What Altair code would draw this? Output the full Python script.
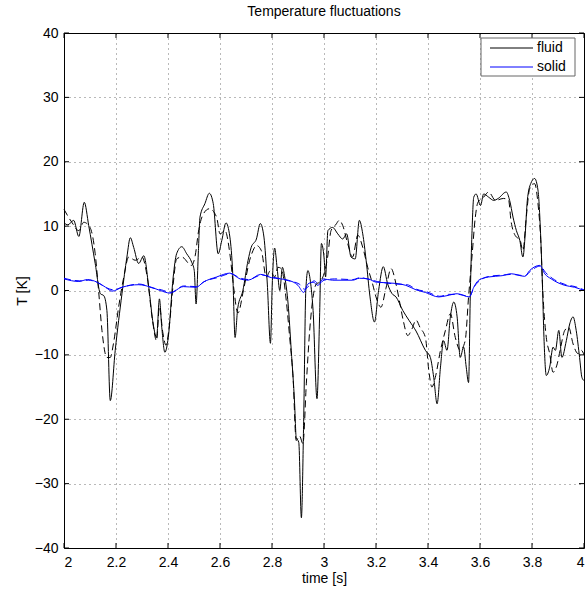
import altair as alt
import pandas as pd

# ---------------- data ----------------
fluid_t = [2.000, 2.015, 2.037, 2.057, 2.078, 2.095, 2.120, 2.140, 2.153, 2.165, 2.178, 2.197,
           2.223, 2.242, 2.255, 2.268, 2.287, 2.307, 2.326, 2.343, 2.356, 2.367, 2.376, 2.388,
           2.401, 2.420, 2.433, 2.453, 2.472, 2.491, 2.501, 2.508, 2.517, 2.523, 2.542, 2.559,
           2.574, 2.593, 2.607, 2.623, 2.638, 2.649, 2.658, 2.668, 2.688, 2.708, 2.720, 2.740,
           2.755, 2.769, 2.782, 2.794, 2.801, 2.810, 2.820, 2.830, 2.840, 2.849, 2.862, 2.874,
           2.887, 2.893, 2.903, 2.913, 2.922, 2.930, 2.938, 2.949, 2.958, 2.973, 2.983, 2.990,
           3.000, 3.006, 3.015, 3.033, 3.053, 3.072, 3.087, 3.104, 3.120, 3.136, 3.149, 3.162,
           3.177, 3.194, 3.210, 3.228, 3.245, 3.262, 3.277, 3.303, 3.328, 3.354, 3.390, 3.409,
           3.422, 3.435, 3.448, 3.460, 3.473, 3.486, 3.499, 3.512, 3.524, 3.537, 3.547, 3.556,
           3.563, 3.569, 3.576, 3.585, 3.602, 3.614, 3.633, 3.653, 3.670, 3.701, 3.714, 3.727,
           3.740, 3.753, 3.765, 3.774, 3.782, 3.795, 3.810, 3.823, 3.833, 3.840, 3.846, 3.855,
           3.868, 3.881, 3.890, 3.903, 3.915, 3.932, 3.945, 3.958, 3.970, 3.983, 3.992, 4.000]
fluid_T = [10.5, 10.2, 10.9, 8.4, 13.7, 10.1, 4.2, -0.5, -0.8, -3.1, -17.1, -9.3,
           -0.5, 5.2, 8.2, 6.7, 4.2, 5.4, 0.5, -5.2, -7.3, -1.3, -5.7, -9.6,
           -7.3, 2.1, 5.7, 6.8, 5.7, 4.4, 3.1, -2.1, 6.2, 11.4, 13.5, 15.1,
           13.5, 5.7, 7.8, 10.5, 8.3, 2.6, -7.3, -2.8, 0.0, 4.7, 6.7, 8.0,
           10.4, 8.3, 1.0, -8.2, 1.0, 6.6, 3.4, 0.0, 3.6, 2.1, -2.1, -9.3,
           -17.6, -22.8, -23.6, -35.3, -19.7, 0.0, 3.1, 1.0, -3.1, -16.8, -4.1, 7.3,
           5.2, 2.1, 9.3, 9.8, 8.8, 8.0, 8.8, 5.2, 4.9, 10.9, 8.8, 4.7,
           -1.0, -4.9, 0.0, 3.7, 1.0, -0.5, -1.0, -3.1, -4.7, -6.3, -9.3, -10.4,
           -13.5, -17.6, -11.9, -7.8, -9.3, -4.1, -1.8, -4.1, -10.4, -8.8, -11.9, -14.3,
           0.0, 8.8, 14.5, 15.0, 13.2, 15.0, 14.5, 14.0, 14.3, 15.3, 14.0, 11.4,
           9.3, 7.8, 5.2, 8.8, 14.0, 16.6, 17.4, 15.6, 8.8, 1.0, -7.3, -13.2,
           -11.9, -8.8, -9.3, -6.2, -10.4, -7.8, -5.2, -4.1, -6.2, -10.4, -13.5, -14.0]

fluid_ref_t = [2.000, 2.030, 2.057, 2.076, 2.100, 2.120, 2.133, 2.146, 2.165, 2.178, 2.190, 2.210,
               2.230, 2.249, 2.274, 2.300, 2.320, 2.340, 2.356, 2.367, 2.380, 2.392, 2.405, 2.420,
               2.433, 2.453, 2.490, 2.505, 2.517, 2.536, 2.559, 2.587, 2.600, 2.619, 2.638, 2.651,
               2.669, 2.690, 2.714, 2.727, 2.740, 2.759, 2.778, 2.794, 2.810, 2.823, 2.836, 2.855,
               2.868, 2.881, 2.893, 2.906, 2.919, 2.932, 2.945, 2.958, 2.970, 2.983, 3.000, 3.014,
               3.027, 3.045, 3.059, 3.072, 3.091, 3.110, 3.130, 3.149, 3.168, 3.187, 3.200, 3.219,
               3.238, 3.258, 3.277, 3.290, 3.305, 3.322, 3.338, 3.354, 3.370, 3.390, 3.403, 3.415,
               3.428, 3.448, 3.467, 3.486, 3.505, 3.524, 3.543, 3.556, 3.569, 3.582, 3.592, 3.614,
               3.633, 3.660, 3.690, 3.710, 3.720, 3.740, 3.753, 3.765, 3.778, 3.791, 3.810, 3.823,
               3.833, 3.842, 3.855, 3.868, 3.881, 3.897, 3.908, 3.926, 3.941, 3.958, 3.977, 3.990,
               4.000]
fluid_ref_T = [12.6, 10.6, 9.3, 10.6, 9.8, 5.7, 0.0, -6.2, -10.4, -10.4, -8.3, -2.6,
               2.1, 5.2, 4.7, 5.2, 2.1, -4.5, -7.8, -2.5, -6.5, -8.5, -5.5, 1.0,
               4.9, 5.2, 3.9, 5.5, 9.1, 11.9, 12.7, 11.4, 8.8, 9.3, 5.7, 1.0,
               -3.5, 0.0, 4.7, 6.2, 7.0, 6.2, 2.1, 3.1, 2.1, 3.6, 3.4, -1.6,
               -7.3, -13.5, -23.3, -22.6, -23.8, -14.5, -6.2, -1.0, 1.0, 1.3, 2.6, 5.2,
               9.3, 10.2, 10.9, 10.1, 7.3, 5.2, 8.6, 6.7, 3.6, 1.0, -1.0, -2.6,
               0.3, 3.4, 1.0, -1.6, -4.7, -7.0, -6.0, -4.6, -5.8, -7.3, -12.4, -15.0,
               -13.5, -9.3, -6.2, -3.6, -7.3, -9.3, -7.8, -1.0, 5.2, 11.4, 13.7, 14.5,
               15.3, 14.0, 14.3, 14.0, 10.6, 8.3, 8.0, 6.2, 11.4, 15.8, 16.6, 13.5,
               8.3, -0.5, -7.3, -9.8, -12.7, -11.4, -9.3, -6.2, -5.7, -8.3, -9.8, -9.3,
               -10.0]

solid_t = [2.000, 2.057, 2.090, 2.127, 2.160, 2.185, 2.223, 2.287, 2.336, 2.370, 2.408, 2.459,
           2.508, 2.536, 2.587, 2.638, 2.677, 2.708, 2.756, 2.797, 2.862, 2.900, 2.922, 2.938,
           2.958, 2.977, 2.996, 3.033, 3.110, 3.136, 3.170, 3.200, 3.277, 3.315, 3.354, 3.390,
           3.441, 3.473, 3.512, 3.559, 3.576, 3.595, 3.633, 3.685, 3.720, 3.772, 3.791, 3.830,
           3.849, 3.874, 3.926, 3.964, 4.000]
solid_T = [1.8, 1.4, 1.7, 1.3, 0.5, -0.1, 0.5, 0.9, 0.5, 0.0, -0.4, 0.6,
           0.5, 1.3, 2.1, 2.7, 1.8, 1.6, 2.5, 2.0, 1.6, 0.8, -0.3, 1.0,
           1.3, 0.8, 1.8, 1.6, 1.6, 1.9, 1.8, 1.3, 1.1, 0.8, 0.1, -0.3,
           -1.0, -0.8, -0.5, -1.0, 0.5, 1.6, 2.1, 2.3, 2.6, 2.2, 3.1, 3.9,
           2.6, 1.8, 0.8, 0.5, 0.0]

solid_ref_t = [2.000, 2.060, 2.095, 2.130, 2.165, 2.190, 2.230, 2.290, 2.340, 2.375, 2.410, 2.460,
               2.510, 2.540, 2.590, 2.640, 2.680, 2.710, 2.760, 2.800, 2.865, 2.905, 2.925, 2.942,
               2.962, 2.980, 3.000, 3.040, 3.110, 3.140, 3.175, 3.205, 3.280, 3.320, 3.355, 3.395,
               3.445, 3.480, 3.515, 3.560, 3.578, 3.598, 3.636, 3.688, 3.722, 3.774, 3.794, 3.832,
               3.852, 3.878, 3.930, 3.966, 4.000]
solid_ref_T = [1.9, 1.5, 1.6, 1.2, 0.4, 0.1, 0.6, 1.0, 0.4, 0.1, -0.3, 0.7,
               0.6, 1.4, 2.0, 2.6, 1.9, 1.7, 2.4, 2.1, 1.5, 1.0, 0.2, 0.7,
               1.5, 1.0, 1.6, 1.8, 1.7, 2.0, 1.7, 1.4, 1.0, 0.9, 0.2, -0.2,
               -0.9, -0.6, -0.6, -0.9, 0.6, 1.5, 2.2, 2.4, 2.5, 2.3, 3.0, 3.8,
               2.8, 1.9, 0.9, 0.6, 0.1]

x_ticks = [2.0, 2.2, 2.4, 2.6, 2.8, 3.0, 3.2, 3.4, 3.6, 3.8, 4.0]
y_ticks = [-40, -30, -20, -10, 0, 10, 20, 30, 40]
series_names = ["fluid", "solid"]
series_colors = ["#000000", "#0000ff"]

# ---------------- tables ----------------
main_df = pd.concat([
    pd.DataFrame({"t": fluid_t, "T": fluid_T, "series": series_names[0]}),
    pd.DataFrame({"t": solid_t, "T": solid_T, "series": series_names[1]}),
])
ref_df = pd.concat([
    pd.DataFrame({"t": fluid_ref_t, "T": fluid_ref_T, "series": series_names[0]}),
    pd.DataFrame({"t": solid_ref_t, "T": solid_ref_T, "series": series_names[1]}),
])
xt_df = pd.DataFrame({"v": x_ticks})
yt_df = pd.DataFrame({"v": y_ticks})
one = pd.DataFrame({"k": [0]})

W, H = 520, 515
FONT = "Liberation Sans"

xscale = alt.Scale(domain=[2, 4], nice=False, zero=False)
yscale = alt.Scale(domain=[-40, 40], nice=False)
cscale = alt.Scale(domain=series_names, range=series_colors)

xax = alt.Axis(values=x_ticks, title="time [s]", grid=True, ticks=False, domain=False,
               labelPadding=7, titlePadding=2, labelExpr="format(datum.value, '~g')")
yax = alt.Axis(values=y_ticks, title="T [K]", grid=True, ticks=False, domain=False,
               labelPadding=6, titlePadding=5,
               labelExpr="replace(format(datum.value, 'd'), '-', '\u2212')")

main_lines = alt.Chart(main_df).mark_line(strokeWidth=1, interpolate="monotone").encode(
    x=alt.X("t:Q", scale=xscale, axis=xax),
    y=alt.Y("T:Q", scale=yscale, axis=yax),
    color=alt.Color("series:N", scale=cscale, legend=None),
)

ref_lines = alt.Chart(ref_df).mark_line(strokeWidth=1, strokeDash=[7, 4], interpolate="monotone").encode(
    x=alt.X("t:Q", scale=xscale),
    y=alt.Y("T:Q", scale=yscale),
    color=alt.Color("series:N", scale=cscale, legend=None),
    detail="series:N",
)

tick_len = 5
x_top = alt.Chart(xt_df).mark_rule(color="black", strokeWidth=1).encode(
    x=alt.X("v:Q", scale=xscale), y=alt.value(0), y2=alt.value(tick_len))
x_bot = alt.Chart(xt_df).mark_rule(color="black", strokeWidth=1).encode(
    x=alt.X("v:Q", scale=xscale), y=alt.value(H), y2=alt.value(H - tick_len))
y_left = alt.Chart(yt_df).mark_rule(color="black", strokeWidth=1).encode(
    y=alt.Y("v:Q", scale=yscale), x=alt.value(0), x2=alt.value(tick_len))
y_right = alt.Chart(yt_df).mark_rule(color="black", strokeWidth=1).encode(
    y=alt.Y("v:Q", scale=yscale), x=alt.value(W), x2=alt.value(W - tick_len))

# ---------------- legend box (MATLAB style) ----------------
LX0, LX1, LY0, LY1 = 417, 511, 5, 43
leg_box = alt.Chart(one).mark_rect(fill="white", stroke="#666666", strokeWidth=1).encode(
    x=alt.value(LX0), x2=alt.value(LX1), y=alt.value(LY0), y2=alt.value(LY1))
leg_layers = [leg_box]
for i, (name, col) in enumerate(zip(series_names, series_colors)):
    yy = 15 + i * 19
    leg_layers.append(alt.Chart(one).mark_rule(color=col, strokeWidth=1).encode(
        x=alt.value(426), x2=alt.value(469), y=alt.value(yy)))
    leg_layers.append(alt.Chart(one).mark_text(
        text=name, align="left", baseline="middle", font=FONT, fontSize=14, color="black").encode(
        x=alt.value(473), y=alt.value(yy)))

chart = alt.layer(main_lines, ref_lines, x_top, x_bot, y_left, y_right, *leg_layers).properties(
    width=W, height=H,
    background="white",
    title=alt.TitleParams("Temperature fluctuations", font=FONT, fontSize=14,
                          fontWeight="normal", offset=7, anchor="middle", color="black"),
    padding={"left": 64, "top": 33, "right": 4, "bottom": 42},
    autosize=alt.AutoSizeParams(type="none"),
).configure_view(stroke="black", strokeWidth=1).configure_axis(
    labelFont=FONT, titleFont=FONT, labelFontSize=14, titleFontSize=14,
    labelColor="black", titleColor="black", titleFontWeight="normal",
    gridColor="#000000", gridOpacity=0.55, gridDash=[1, 4], gridWidth=1,
)

chart.save("out.html", embed_options={"renderer": "svg", "actions": False})
